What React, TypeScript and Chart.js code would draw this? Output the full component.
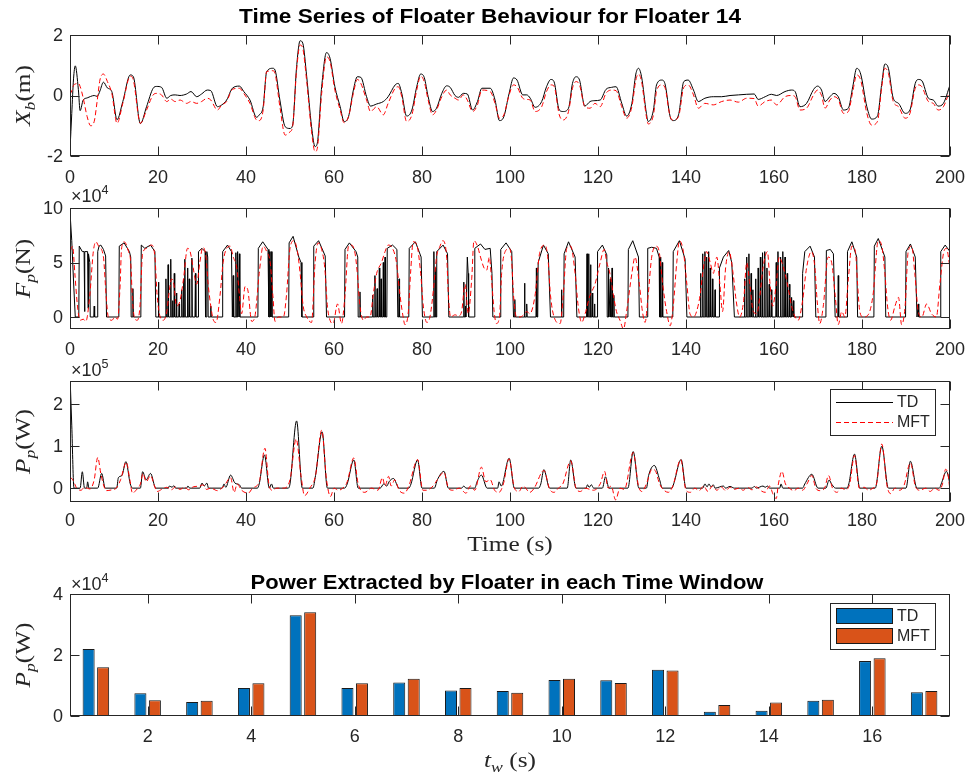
import React, { useEffect, useRef } from "react";
import { Chart, registerables } from "chart.js";
Chart.register(...registerables);

const W = 967;
const H = 775;
const AX = "#262626";
const SANS = '"Liberation Sans", Arial, Helvetica, sans-serif';
const SERIF = '"Liberation Serif", "Times New Roman", serif';

// ---------- Plot 1 : X_b (m) ----------
const tXb = [0, 0.4, 0.8, 1.2, 1.9, 2.3, 3, 3.9, 4.7, 5.5, 6.2, 6.8, 7.6, 8.5, 9.5, 10.7, 12, 13.7, 14.4, 16, 17.4, 18.9, 19.7, 20.8, 22, 22.9, 23.9, 25, 26.5, 27.5, 28.8, 29.9, 31.2, 32, 33.5, 34.5, 35.6, 36.9, 38.5, 39.5, 40.9, 42.4, 43, 43.9, 44.7, 46.1, 46.6, 47.7, 48.9, 50, 50.6, 51.5, 52.3, 52.9, 53.8, 54.9, 55.7, 56.2, 57.2, 58.3, 59.1, 60.2, 61.4, 62.3, 63.3, 64.4, 65.3, 66.1, 67.4, 68.3, 69.7, 71.2, 72.3, 73.9, 74.6, 75.4, 76.5, 77.7, 78.8, 79.7, 80.5, 81.4, 82.4, 83.3, 84.5, 85.6, 86.4, 87.5, 88.3, 89.4, 90.3, 91.5, 92.6, 93.6, 95.5, 96.6, 97.6, 98.6, 99.8, 100.8, 101.6, 102.9, 103.8, 104.6, 105.7, 107.2, 108.3, 109.3, 110, 111.2, 112.1, 113.3, 114.2, 115, 115.8, 117, 118.2, 119.3, 120.5, 121.8, 123.1, 124.1, 125.4, 126.5, 127.7, 128.6, 129.2, 129.9, 131, 131.4, 132.6, 133.3, 134.5, 135.2, 136.4, 137.1, 138.3, 139.5, 140.5, 141.7, 142.8, 144.3, 146.2, 148.1, 150, 151.9, 153.8, 155.5, 156.4, 158, 159.4, 160.6, 162.5, 164, 164.8, 165.9, 167.4, 169, 169.9, 170.8, 171.6, 172.7, 173.6, 174.6, 175.8, 176.9, 177.9, 178.8, 179.7, 181.1, 182.2, 183.5, 184.5, 185.2, 186, 187.1, 188.3, 189.8, 190.9, 192.1, 192.8, 193.6, 195.1, 196.2, 197.3, 198.5, 200];
const xbTD = [-1.8, -0.6, 0.55, 0.98, 0.2, -0.5, -0.15, -0.08, -0.03, 0, -0.03, 0.15, 0.44, 0.25, 0.13, -0.8, -0.2, 0.68, 0.62, -0.93, -0.37, 0.24, 0.3, 0.27, -0.09, 0, 0.02, 0, 0.05, 0.13, -0.04, 0.05, 0.18, 0.16, -0.37, -0.31, -0.15, 0.24, 0.31, 0.13, -0.15, -0.72, -0.64, -0.37, 0.79, 0.9, 0.84, -0.15, -1.03, -1.09, -0.98, 0.95, 1.81, 1.73, 0.62, -1.03, -1.69, -1.58, 0.29, 1.42, 1.23, 0.29, -0.37, -0.86, -0.7, 0.18, 0.62, 0.6, -0.04, -0.35, -0.28, -0.2, -0.04, 0.35, 0.4, 0.07, -0.68, -0.48, 0.29, 0.71, 0.6, -0.04, -0.53, -0.42, 0.07, 0.32, 0.27, 0, -0.06, 0.07, 0.05, -0.48, -0.2, 0.24, 0.24, -0.15, -0.83, -0.7, 0.07, 0.58, 0.51, 0.02, 0.02, -0.09, -0.39, -0.2, 0.29, 0.53, 0.46, -0.48, -0.53, -0.42, 0.4, 0.62, 0.51, -0.35, -0.2, -0.17, -0.15, 0.2, 0.27, 0.29, -0.26, -0.68, -0.26, 0.71, 0.9, 0.62, -0.59, -0.86, -0.48, 0.35, 0.51, 0.4, -0.7, -0.83, -0.64, 0.46, 0.51, 0.18, -0.2, -0.09, -0.04, -0.04, 0, 0.02, 0.04, 0.05, -0.13, -0.04, 0.04, 0, 0.13, 0.18, 0.13, -0.37, -0.26, 0.2, 0.31, 0.18, -0.2, -0.04, 0.07, -0.04, -0.48, -0.42, 0.29, 0.9, 0.71, -0.37, -0.78, -0.68, 0.4, 1.04, 0.9, -0.09, -0.26, -0.59, -0.48, 0.4, 0.53, 0.49, -0.09, -0.15, -0.35, -0.26, 0.35];
const xbMFT = [0.04, 0.15, 0.33, 0.38, 0.4, 0.3, -0.08, -0.7, -1.0, -0.86, -0.15, 0.51, 0.71, 0.46, 0.07, -0.92, -0.26, 0.64, 0.51, -0.92, -0.48, 0.02, 0.07, 0.02, -0.2, -0.12, -0.2, -0.15, -0.26, -0.2, -0.26, -0.2, -0.09, -0.15, -0.48, -0.31, -0.2, 0.2, 0.24, 0.07, -0.26, -0.81, -0.83, -0.48, 0.79, 0.82, 0.73, -0.37, -1.31, -1.2, -1.03, 0.84, 1.67, 1.56, 0.46, -1.2, -1.86, -1.75, 0.07, 1.28, 1.12, 0.18, -0.48, -0.9, -0.7, 0.07, 0.53, 0.4, -0.15, -0.53, -0.37, -0.64, -0.26, 0.24, 0.29, -0.04, -0.86, -0.64, 0.18, 0.64, 0.46, -0.15, -0.64, -0.48, -0.04, 0.18, 0.02, -0.09, -0.15, 0.02, -0.15, -0.53, -0.31, 0.18, 0.13, -0.26, -0.75, -0.64, 0.02, 0.35, 0.29, -0.09, -0.13, -0.15, -0.53, -0.37, 0.13, 0.35, 0.31, -0.64, -0.81, -0.53, 0.24, 0.46, 0.35, -0.37, -0.42, -0.26, -0.37, 0.07, 0.18, 0.16, -0.37, -0.75, -0.37, 0.51, 0.71, 0.46, -0.7, -0.94, -0.64, 0.13, 0.35, 0.27, -0.7, -0.81, -0.7, 0.27, 0.35, 0.02, -0.42, -0.26, -0.31, -0.2, -0.15, -0.22, -0.09, -0.1, -0.35, -0.2, -0.15, -0.31, -0.04, 0, -0.04, -0.48, -0.42, 0.02, 0.18, 0, -0.42, -0.15, -0.04, -0.13, -0.59, -0.53, 0.13, 0.68, 0.51, -0.59, -0.98, -0.86, 0.29, 0.9, 0.73, -0.2, -0.37, -0.75, -0.59, 0.24, 0.35, 0.29, -0.2, -0.26, -0.48, -0.37, 0.18];

// ---------- Plot 2 : F_p (N) x1e4, [time, value] ----------
const fpTD: [number, number][] = [[0, 9.6], [0.4, 7.0], [0.8, 3.3], [1.2, 0], [2.0, 0], [2.1, 6.5], [2.8, 6.0], [3.2, 6.0], [3.3, 0.5], [3.4, 6.0], [4.0, 6.0], [4.1, 0.8], [4.2, 5.8], [4.5, 5.0], [4.6, 0], [5.4, 0], [5.5, 1.0], [5.6, 0], [6.2, 0], [6.3, 6.0], [6.6, 6.5], [7.0, 6.6], [7.6, 6.2], [8.1, 5.6], [8.3, 0], [11.1, 0], [11.2, 6.5], [12.3, 6.8], [13.5, 6.0], [13.8, 5.5], [13.9, 0], [14.2, 0], [14.3, 2.6], [14.4, 0], [16.1, 0], [16.2, 6.6], [17.0, 6.3], [18.3, 6.6], [19.3, 6.0], [19.5, 0], [20.0, 0], [20.1, 3.2], [20.2, 0], [21.7, 0], [21.8, 3.5], [21.9, 0], [22.2, 0], [22.3, 4.8], [22.4, 0], [22.8, 0], [22.9, 5.3], [23.0, 0], [23.2, 0], [23.3, 1.5], [23.4, 0], [23.6, 0], [23.7, 4.0], [23.8, 0], [24.1, 0], [24.2, 2.2], [24.3, 0], [24.7, 0], [24.8, 1.2], [24.9, 0], [25.3, 0], [25.4, 2.5], [25.5, 0], [25.7, 0], [25.8, 3.5], [25.9, 0], [26.0, 0], [26.1, 5.3], [26.2, 0], [26.6, 0], [26.7, 4.5], [26.8, 0], [27.0, 0], [27.1, 3.5], [27.2, 0], [27.6, 0], [27.7, 5.4], [27.8, 0], [28.4, 0], [28.5, 4.0], [28.6, 0], [29.1, 0], [29.2, 6.0], [30.0, 6.3], [30.7, 6.0], [30.8, 0], [31.0, 0], [31.1, 6.0], [31.3, 5.5], [31.4, 0], [31.9, 0], [32.0, 1.0], [32.1, 0], [34.6, 0], [34.7, 6.0], [35.8, 6.6], [36.7, 6.0], [36.9, 0], [37.0, 0], [37.1, 3.8], [37.2, 0], [37.6, 0], [37.7, 5.9], [37.8, 0], [38.0, 0], [38.1, 6.0], [38.2, 0], [38.4, 0], [38.5, 5.8], [38.6, 0], [42.7, 0], [42.8, 6.3], [43.8, 6.9], [45.0, 6.2], [45.2, 0], [45.3, 0], [45.4, 6.0], [45.6, 0], [45.7, 6.0], [45.9, 0], [49.7, 0], [49.8, 6.8], [50.7, 7.4], [52.0, 5.5], [52.5, 5.0], [52.7, 0], [55.3, 0], [55.4, 6.5], [56.5, 7.0], [58.0, 5.6], [58.3, 0], [62.4, 0], [62.5, 6.2], [63.5, 6.8], [65.0, 6.0], [65.4, 5.5], [65.5, 0], [65.8, 0], [65.9, 2.3], [66.0, 0], [68.7, 0], [68.8, 2.0], [68.9, 0], [69.2, 0], [69.3, 3.8], [69.4, 0], [69.7, 0], [69.8, 2.6], [69.9, 0], [70.2, 0], [70.3, 4.5], [70.4, 0], [70.6, 0], [70.7, 3.5], [70.8, 0], [71.1, 0], [71.2, 5.0], [71.3, 0], [71.5, 0], [71.6, 5.5], [71.7, 0], [72.0, 0], [72.1, 6.3], [73.3, 6.6], [74.3, 6.2], [74.5, 0], [74.7, 0], [74.8, 3.5], [74.9, 0], [77.0, 0], [77.1, 6.3], [78.5, 6.9], [79.8, 5.5], [80.1, 0], [82.6, 0], [82.7, 6.0], [82.8, 0], [83.0, 0], [83.1, 4.5], [83.2, 0], [83.3, 0], [83.4, 6.0], [84.8, 6.6], [85.8, 5.8], [86.1, 0], [89.4, 0], [89.5, 3.2], [89.6, 0], [89.8, 0], [89.9, 1.0], [90.0, 0], [90.2, 0], [90.3, 5.5], [90.5, 4.0], [90.6, 0], [91.9, 0], [92.0, 6.3], [93.3, 6.7], [94.3, 6.2], [95.5, 6.3], [95.9, 4.0], [96.1, 0], [97.8, 0], [97.9, 6.2], [99.1, 6.8], [100.4, 6.0], [100.8, 0], [101.0, 0], [101.1, 1.6], [101.2, 0], [103.2, 0], [103.3, 3.1], [103.4, 0], [103.7, 0], [103.8, 1.2], [103.9, 0], [105.9, 0], [106.0, 4.5], [106.1, 0], [106.3, 0], [106.4, 5.0], [107.6, 6.6], [108.7, 5.8], [109.2, 0], [111.6, 0], [111.7, 2.5], [111.8, 0], [112.2, 0], [112.3, 5.8], [113.3, 6.9], [114.8, 5.5], [115.2, 0], [117.4, 0], [117.5, 5.8], [117.6, 0], [117.8, 0], [117.9, 5.8], [118.0, 0], [118.2, 0], [118.3, 4.8], [118.4, 0], [118.6, 0], [118.7, 2.2], [118.8, 0], [119.1, 0], [119.2, 1.2], [119.3, 0], [119.8, 0], [119.9, 6.0], [121.0, 6.6], [122.0, 5.7], [122.1, 0], [122.3, 0], [122.4, 4.5], [122.5, 0], [122.7, 0], [122.8, 3.5], [122.9, 0], [123.1, 0], [123.2, 4.5], [123.3, 0], [123.5, 0], [123.6, 2.0], [123.7, 0], [126.8, 0], [126.9, 6.2], [127.9, 7.0], [129.2, 5.5], [129.4, 0], [131.2, 0], [131.3, 6.3], [132.2, 6.4], [133.3, 6.3], [133.9, 5.5], [134.0, 0], [134.1, 0], [134.2, 5.5], [134.3, 0], [134.5, 0], [134.6, 5.0], [134.7, 0], [137.0, 0], [137.1, 6.0], [138.5, 7.0], [139.8, 5.3], [140.2, 0], [143.2, 0], [143.3, 4.0], [143.4, 0], [143.7, 0], [143.8, 5.8], [143.9, 0], [144.2, 0], [144.3, 6.0], [144.4, 0], [144.6, 0], [144.7, 5.5], [144.8, 0], [145.0, 0], [145.1, 6.0], [145.2, 0], [145.4, 0], [145.5, 4.5], [145.6, 0], [145.9, 0], [146.0, 3.5], [146.1, 0], [146.5, 0], [146.6, 2.5], [146.7, 0], [147.5, 0], [147.6, 4.5], [148.5, 5.5], [149.7, 6.1], [150.4, 5.0], [151.0, 0], [153.2, 0], [153.3, 3.5], [153.4, 0], [153.7, 0], [153.8, 5.5], [153.9, 0], [154.2, 0], [154.3, 5.8], [154.4, 0], [154.7, 0], [154.8, 4.0], [154.9, 0], [155.1, 0], [155.2, 2.5], [155.3, 0], [155.7, 0], [155.8, 3.5], [155.9, 0], [156.3, 0], [156.4, 4.5], [156.5, 0], [156.8, 0], [156.9, 5.5], [157.0, 0], [157.3, 0], [157.4, 5.9], [157.5, 0], [157.8, 0], [157.9, 6.0], [158.0, 0], [158.3, 0], [158.4, 4.5], [158.5, 0], [158.8, 0], [158.9, 3.0], [159.0, 0], [159.3, 0], [159.4, 2.5], [159.5, 0], [160.4, 0], [160.5, 5.0], [160.6, 0], [160.8, 0], [160.9, 6.0], [161.0, 0], [161.4, 0], [161.5, 5.5], [161.6, 0], [161.9, 0], [162.0, 6.0], [162.1, 0], [162.4, 0], [162.5, 5.5], [162.6, 0], [162.9, 0], [163.0, 4.0], [163.1, 0], [163.4, 0], [163.5, 3.0], [163.6, 0], [163.9, 0], [164.0, 1.8], [164.1, 0], [164.3, 0], [164.4, 1.5], [164.5, 0], [166.4, 0], [166.5, 4.0], [167.0, 6.0], [168.2, 6.5], [169.2, 5.5], [169.5, 0], [171.8, 0], [171.9, 6.1], [172.8, 6.2], [173.5, 5.8], [173.9, 0], [174.5, 0], [174.6, 3.8], [174.7, 0], [176.6, 0], [176.7, 6.0], [177.7, 6.9], [178.8, 5.5], [179.0, 0], [182.7, 0], [182.8, 6.5], [183.7, 7.2], [185.2, 5.5], [185.4, 0], [189.9, 0], [190.0, 6.0], [191.0, 6.7], [192.1, 5.5], [192.5, 0], [192.7, 0], [192.8, 1.2], [192.9, 0], [197.8, 0], [197.9, 6.0], [198.9, 6.6], [200, 6.0]];
const fpMFT: [number, number][] = [[0, 6.1], [0.2, 6.2], [0.6, 6.5], [1.1, 4.0], [1.7, 1.0], [2.3, -0.3], [3.0, -0.2], [3.6, -0.4], [4.5, 2.0], [5.3, 6.0], [5.9, 6.9], [6.5, 6.5], [7.6, 5.5], [8.2, 2.0], [8.7, 0.0], [9.5, -0.3], [10.2, 0.0], [10.8, -0.2], [11.4, 3.0], [11.7, 6.2], [12.3, 6.9], [13.3, 6.0], [13.8, 5.0], [14.2, 1.5], [14.8, -0.2], [15.3, -0.3], [15.9, 1.0], [16.5, 5.8], [17.4, 6.3], [18.5, 6.6], [19.3, 5.5], [19.8, 2.0], [20.5, 0.0], [21.2, -0.3], [22.0, 0.5], [22.6, 2.5], [23.1, 3.5], [23.6, 3.0], [24.2, 1.0], [25.0, 1.5], [25.8, 3.5], [26.7, 6.3], [27.3, 6.0], [28.0, 4.5], [28.8, 3.0], [29.5, 5.0], [30.2, 6.4], [30.9, 5.5], [31.4, 3.0], [32.0, 1.0], [32.6, -0.3], [33.2, -0.5], [34.1, 2.0], [34.8, 5.0], [35.6, 6.3], [36.4, 6.5], [37.1, 5.5], [37.9, 4.5], [38.5, 2.0], [39.0, 0.3], [39.8, 2.8], [40.4, 2.5], [41.3, -0.4], [42.0, 0.0], [43.0, 4.0], [43.9, 6.5], [44.7, 6.0], [45.5, 5.0], [46.1, 2.0], [46.6, -0.4], [47.3, 0.0], [48.5, 0.0], [49.2, 2.0], [50.0, 6.3], [50.9, 7.0], [51.7, 6.0], [52.3, 4.0], [53.0, 1.0], [53.8, 0.0], [54.9, -0.5], [55.7, 5.0], [56.4, 6.8], [57.2, 6.2], [57.9, 4.5], [58.5, 1.0], [59.1, -0.3], [59.8, -0.6], [60.8, 1.2], [61.7, -0.6], [62.5, 2.0], [63.3, 6.5], [64.0, 6.6], [64.8, 5.8], [65.3, 4.0], [65.9, 1.0], [66.7, -0.3], [67.4, 0.0], [68.2, 0.0], [68.9, 2.0], [69.7, 4.0], [70.8, 5.0], [71.6, 6.0], [72.3, 6.6], [73.3, 6.3], [74.2, 5.0], [75.0, 2.0], [75.8, -0.2], [76.1, -0.7], [76.9, 0.5], [77.4, 4.0], [78.0, 6.9], [78.9, 6.5], [79.7, 4.0], [80.3, 1.0], [81.1, -0.5], [81.8, 0.0], [82.6, 2.5], [83.3, 5.5], [84.1, 6.5], [84.7, 7.0], [85.6, 5.5], [86.0, 2.0], [86.5, 0.0], [87.5, 0.2], [88.3, 0.1], [89.0, 0.5], [89.8, 3.0], [90.5, 0.3], [91.3, 3.5], [91.8, 7.0], [92.6, 6.5], [93.3, 5.5], [94.1, 4.5], [94.7, 4.3], [95.3, 5.5], [95.8, 3.5], [96.4, 0.5], [96.9, -0.6], [97.6, 0.0], [98.1, 4.0], [98.9, 6.0], [99.9, 6.3], [100.4, 5.0], [100.8, 2.0], [101.5, 0.0], [102.3, 0.0], [103.1, 0.2], [103.8, 0.5], [104.5, 0.3], [105.7, 2.0], [106.8, 6.0], [108.0, 6.6], [108.7, 5.0], [109.2, 2.0], [110.2, -0.2], [111.4, -0.6], [112.1, 2.0], [112.9, 6.3], [113.8, 6.5], [114.8, 4.0], [115.5, 1.0], [116.3, -0.5], [117.0, 0.2], [118.2, 2.0], [119.3, 3.0], [120.5, 5.0], [121.4, 6.2], [122.0, 5.0], [122.7, 4.0], [123.5, 2.0], [124.2, 0.5], [125.0, -0.3], [125.8, -1.1], [126.5, 0.5], [127.7, 4.0], [128.4, 5.5], [129.4, 3.0], [130.1, 0.5], [130.7, -0.5], [131.4, 2.0], [132.2, 5.5], [133.2, 6.5], [133.9, 6.0], [134.7, 3.0], [135.6, 0.5], [136.4, -0.8], [137.1, 1.0], [137.9, 5.0], [138.5, 7.0], [139.4, 6.0], [140.2, 3.0], [140.9, 0.3], [141.7, 0.0], [142.4, 0.5], [143.2, 2.0], [143.8, 4.0], [144.7, 6.0], [145.5, 5.0], [146.2, 4.0], [147.0, 5.5], [147.7, 3.0], [148.3, 0.5], [149.0, 4.5], [149.8, 6.0], [150.7, 4.0], [151.4, 1.5], [152.2, 0.0], [153.1, 1.5], [153.8, 5.0], [154.5, 3.0], [155.3, 0.5], [156.1, 0.3], [156.8, 2.0], [157.5, 4.5], [158.5, 6.0], [159.1, 3.0], [159.7, 1.0], [160.5, 3.0], [161.2, 5.5], [161.8, 5.0], [162.5, 4.0], [163.3, 2.5], [164.0, 1.0], [164.8, 0.0], [165.5, -0.3], [166.5, 1.5], [167.4, 4.5], [168.5, 6.0], [169.3, 4.5], [169.8, 1.5], [170.4, -0.6], [171.2, 1.0], [172.3, 5.5], [173.1, 5.0], [173.9, 2.0], [174.6, -0.7], [175.4, 0.5], [176.1, 0.0], [176.9, 3.5], [177.7, 6.5], [178.5, 6.0], [179.0, 3.0], [179.5, 0.5], [180.3, 0.0], [181.4, 0.2], [182.5, 2.0], [183.7, 7.0], [184.5, 6.5], [185.2, 4.0], [185.8, 1.0], [186.5, -0.3], [187.5, 1.0], [188.3, 1.8], [189.0, -0.7], [189.8, 1.0], [190.5, 6.0], [191.3, 6.5], [192.0, 4.0], [192.8, 0.5], [193.6, 0.0], [194.7, 1.2], [195.8, 0.3], [196.9, 0.0], [197.7, 3.0], [198.6, 6.0], [199.2, 6.3], [200, 4.5]];

// ---------- Plot 3 : P_p (W) x1e5, [time, value] ----------
const ppTD: [number, number][] = [[0, 2.7], [0.4, 1.5], [0.9, 0], [2.3, 0], [2.8, 0.39], [3.3, 0], [3.8, 0], [4.0, 0.15], [4.3, 0], [6.3, 0], [7.2, 0.35], [8.0, 0], [10.6, 0], [11.0, 0.25], [11.8, 0.3], [12.7, 0.63], [13.7, 0.1], [14.2, 0], [16.0, 0], [16.5, 0.39], [17.3, 0.2], [18.3, 0.35], [19.5, 0], [22.3, 0], [22.6, 0.05], [23.2, 0.02], [23.6, 0.06], [24, 0], [26.5, 0], [26.8, 0.05], [27.2, 0], [29.5, 0], [30, 0.12], [30.5, 0.05], [31.1, 0.12], [31.5, 0], [34.6, 0], [35, 0.1], [35.4, 0.02], [36.5, 0.31], [37.5, 0.12], [38.5, 0.08], [39, 0], [42.6, 0], [43, 0.1], [44.2, 0.79], [45.3, 0], [45.8, 0.1], [46.2, 0], [49.6, 0], [50, 0.1], [51.5, 1.6], [52.8, 0], [55.2, 0], [55.8, 0.3], [57.3, 1.34], [58.5, 0], [62.4, 0], [63, 0.1], [64.5, 0.67], [65.5, 0], [70.5, 0], [71.3, 0.1], [72, 0.05], [72.5, 0.15], [73.5, 0.23], [74.8, 0], [77, 0], [77.5, 0.1], [79, 0.67], [80, 0], [82.8, 0], [83.5, 0.2], [85, 0.4], [86, 0], [89, 0], [89.5, 0.05], [90, 0], [92, 0], [92.5, 0.15], [93.5, 0.31], [94.8, 0], [97.2, 0], [97.5, 0.15], [98, 0.05], [99.8, 0.71], [101, 0], [106.5, 0], [107, 0.1], [107.7, 0.44], [109, 0], [113, 0], [113.8, 0.67], [115, 0], [117.3, 0], [117.6, 0.08], [118, 0.02], [118.5, 0.08], [119, 0], [121, 0], [121.7, 0.27], [122.5, 0], [126.8, 0], [128, 0.87], [129.3, 0], [131, 0], [131.5, 0.3], [132.8, 0.54], [134, 0.2], [134.6, 0], [136.8, 0], [137.2, 0.1], [138.9, 0.68], [140, 0], [143.8, 0], [144.3, 0.1], [144.8, 0.03], [145.2, 0.1], [145.7, 0.03], [146.2, 0.08], [146.6, 0], [148.5, 0.05], [149, 0], [150, 0.04], [151, 0], [155, 0], [155.5, 0.04], [156, 0], [157.5, 0.05], [158, 0.02], [158.5, 0.05], [159, 0], [161.3, 0], [161.6, 0.1], [162, 0], [166.5, 0], [167, 0.1], [168.6, 0.33], [170, 0], [171.8, 0], [172.5, 0.19], [173.2, 0.08], [174, 0], [176.6, 0], [177, 0.1], [178.3, 0.81], [179.5, 0], [183, 0], [184.5, 1.0], [186, 0], [190, 0], [191, 0.64], [192.5, 0], [197.6, 0], [198, 0.1], [199.2, 0.4], [200, 0.1]];
const ppMFT: [number, number][] = [[0, 0.25], [0.5, 0.22], [1.0, 0.12], [1.5, 0], [2.5, -0.05], [3.3, 0.02], [4.5, -0.02], [5.5, 0.2], [6.3, 0.73], [7.0, 0.35], [7.7, 0.05], [8.2, -0.06], [9.5, -0.04], [10.5, 0], [11.5, 0.2], [12.8, 0.62], [13.6, 0.2], [14.2, -0.12], [15, -0.05], [16, 0.1], [16.6, 0.35], [17.3, 0.15], [18.3, 0.3], [19.2, 0.05], [19.8, -0.08], [21, -0.02], [22, 0.02], [23, -0.04], [24, 0.03], [25, -0.03], [26, 0.02], [27, -0.04], [28, 0.03], [29.5, 0.05], [30.2, 0.08], [31, -0.03], [32, 0.0], [33.5, -0.06], [35, 0.05], [36.5, 0.25], [37.3, -0.1], [38, 0.1], [39, -0.05], [40.5, -0.12], [41.5, 0], [43, 0.15], [44.3, 0.95], [45.2, 0.1], [46, -0.05], [47, 0.0], [48.5, 0.0], [50, 0.2], [51.4, 1.17], [52.5, 0.3], [53.3, -0.18], [54.5, 0.0], [55.8, 0.3], [57.2, 1.38], [58.3, 0.2], [59.2, -0.2], [60, 0.0], [61, -0.05], [62, 0.0], [63, 0.15], [64.5, 0.72], [65.5, 0.1], [67, -0.1], [68.5, 0], [70, -0.05], [71, 0.25], [71.6, 0.05], [72.4, 0.28], [73, 0.05], [73.8, 0.2], [74.8, -0.05], [76, -0.12], [77, 0.05], [79, 0.68], [80.2, -0.05], [81, -0.05], [82.5, 0.05], [83.5, 0.2], [85, 0.38], [86, 0.0], [87, -0.05], [88.5, 0.0], [90, -0.12], [91, 0.05], [92, -0.05], [93.5, 0.5], [94.5, 0.15], [95.5, 0.2], [96.5, -0.05], [97.5, -0.1], [98.5, 0.1], [99.8, 0.7], [101, 0.0], [102, -0.08], [103, 0.05], [104.5, -0.1], [105.5, 0.0], [107.7, 0.42], [109, -0.02], [110, -0.1], [111, 0.0], [112, 0.1], [113.8, 0.65], [115, 0.0], [116, -0.08], [117, 0.0], [119, -0.05], [120.5, 0.1], [121.5, 0.4], [122.3, 0.0], [123, 0.05], [124, -0.28], [125, 0.0], [126, -0.03], [128, 0.85], [129.2, 0.05], [130, -0.08], [131, 0.1], [132.3, 0.45], [133, 0.42], [134, 0.1], [135, -0.05], [136, -0.1], [137, 0.05], [138.8, 0.68], [140, -0.05], [141, -0.1], [142, 0.0], [143, -0.06], [144, 0.05], [145, -0.08], [146, 0.05], [147, -0.05], [148, 0.03], [149, -0.06], [150, 0.02], [151, -0.03], [152, 0.0], [153, -0.05], [154, 0.02], [155, -0.04], [156, 0.03], [157, -0.06], [158, -0.1], [159, 0.05], [159.8, -0.15], [160.5, -0.25], [161, 0.1], [161.8, 0.4], [162.6, 0.1], [163.5, 0.0], [164.5, -0.06], [165.5, 0.0], [166.5, -0.05], [167.5, 0.1], [168.6, 0.3], [169.5, 0.0], [170.5, -0.06], [171.5, 0.0], [172.4, 0.3], [173.3, 0.0], [174.3, -0.1], [175.3, 0.0], [176.3, -0.04], [177.2, 0.1], [178.3, 0.78], [179.4, 0.0], [180.5, 0.02], [181.5, -0.05], [182.5, 0.0], [183.3, 0.1], [184.5, 1.05], [185.7, 0.05], [186.5, -0.13], [187.5, 0.0], [188.5, -0.05], [189.5, 0.05], [191, 0.6], [192.2, 0.02], [193.2, -0.05], [194.5, 0.0], [195.5, -0.08], [196.5, 0.0], [197.5, -0.05], [198.3, 0.1], [199, 0.45], [199.6, 0.3], [200, -0.08]];

// ---------- Plot 4 : bars, P_p (W) x1e4 per time window ----------
const windows = [1, 2, 3, 4, 5, 6, 7, 8, 9, 10, 11, 12, 13, 14, 15, 16, 17];
const barTD = [2.2, 0.75, 0.46, 0.92, 3.3, 0.92, 1.1, 0.84, 0.82, 1.18, 1.17, 1.52, 0.14, 0.17, 0.5, 1.8, 0.78];
const barMFT = [1.6, 0.52, 0.5, 1.07, 3.4, 1.07, 1.22, 0.92, 0.76, 1.22, 1.08, 1.49, 0.36, 0.44, 0.53, 1.89, 0.82];

// ---------- tick definitions ----------
const timeTicks = [0, 20, 40, 60, 80, 100, 120, 140, 160, 180, 200];
const xbTicks = [-2, 0, 2];
const fpTicks = [0, 5, 10];
const ppTicks = [0, 1, 2];
const barYTicks = [0, 2, 4];
const barXTicks = [2, 4, 6, 8, 10, 12, 14, 16];

const TD_COLOR = "#000000";
const MFT_COLOR = "#ff0000";
const BLUE = "#0072BD";
const ORANGE = "#D95319";

type Seg = { t: string; it?: boolean; sub?: boolean; sup?: boolean };

function drawRich(ctx: CanvasRenderingContext2D, segs: Seg[], x: number, y: number, size: number, family: string, align: "center" | "left", rotate: boolean, stretch = 1) {
  ctx.save();
  ctx.translate(x, y);
  if (rotate) ctx.rotate(-Math.PI / 2);
  ctx.scale(stretch, 1);
  const parts = segs.map((s) => {
    const sz = s.sub || s.sup ? size * 0.7 : size;
    const font = `${s.it ? "italic " : ""}${sz}px ${family}`;
    ctx.font = font;
    return { s, font, w: ctx.measureText(s.t).width, dy: s.sub ? size * 0.22 : s.sup ? -size * 0.42 : 0 };
  });
  const total = parts.reduce((acc, p) => acc + p.w, 0);
  let cx = align === "center" ? -total / 2 : 0;
  ctx.textBaseline = "alphabetic";
  ctx.textAlign = "left";
  ctx.fillStyle = AX;
  for (const p of parts) {
    ctx.font = p.font;
    ctx.fillText(p.s.t, cx, p.dy);
    cx += p.w;
  }
  ctx.restore();
}

type LegendItem = { label: string; kind: "line" | "patch"; color: string; dash?: number[] };
type AxCfg = {
  xTicks: number[];
  xTickPos: number[];
  yTicks: number[];
  xLabelOffset: number;
  title?: { text: string; x: number; y: number; size: number; sx: number };
  yLabel: { segs: Seg[]; x: number };
  xLabel?: { segs: Seg[]; y: number };
  expo?: { p: string; y: number };
  legend?: { x1: number; y1: number; x2: number; y2: number; items: LegendItem[] };
};

const LABEL_SIZE = 22;
const LABEL_STRETCH = 1.15;

function matlabPlugin(cfg: AxCfg) {
  return {
    id: "matlabAxes",
    afterDraw(chart: any) {
      const ctx: CanvasRenderingContext2D = chart.ctx;
      const a = chart.chartArea;
      const xs = chart.scales.x;
      const ys = chart.scales.y;
      const TL = 9;
      ctx.save();
      ctx.strokeStyle = AX;
      ctx.lineWidth = 1;
      ctx.setLineDash([]);
      const L = a.left + 0.5, R = a.right - 0.5, T = a.top + 0.5, B = a.bottom - 0.5;
      ctx.beginPath();
      cfg.xTickPos.forEach((v) => {
        const px = Math.round(xs.getPixelForValue(v)) + 0.5;
        ctx.moveTo(px, B); ctx.lineTo(px, B - TL);
        ctx.moveTo(px, T); ctx.lineTo(px, T + TL);
      });
      cfg.yTicks.forEach((v) => {
        const py = Math.round(ys.getPixelForValue(v)) + 0.5;
        ctx.moveTo(L, py); ctx.lineTo(L + TL, py);
        ctx.moveTo(R, py); ctx.lineTo(R - TL, py);
      });
      ctx.stroke();
      ctx.strokeRect(L, T, R - L, B - T);

      // tick labels
      ctx.fillStyle = AX;
      ctx.font = `18px ${SANS}`;
      ctx.textAlign = "center";
      ctx.textBaseline = "middle";
      cfg.xTickPos.forEach((v, i) => {
        ctx.fillText(String(cfg.xTicks[i]), xs.getPixelForValue(v), a.bottom + cfg.xLabelOffset);
      });
      ctx.textAlign = "right";
      cfg.yTicks.forEach((v) => {
        ctx.fillText(String(v), a.left - 7, ys.getPixelForValue(v) + 1);
      });

      // exponent label
      if (cfg.expo) {
        drawRich(ctx, [{ t: "\u00d710" }, { t: cfg.expo.p, sup: true }], a.left + 1, cfg.expo.y, 18, SANS, "left", false);
      }
      // title
      if (cfg.title) {
        const t = cfg.title;
        ctx.save();
        ctx.translate(t.x, t.y);
        ctx.scale(t.sx, 1);
        ctx.font = `bold ${t.size}px ${SANS}`;
        ctx.textAlign = "center";
        ctx.textBaseline = "middle";
        ctx.fillStyle = "#000";
        ctx.fillText(t.text, 0, 0);
        ctx.restore();
      }
      // axis labels
      drawRich(ctx, cfg.yLabel.segs, cfg.yLabel.x, (a.top + a.bottom) / 2, LABEL_SIZE, SERIF, "center", true, LABEL_STRETCH);
      if (cfg.xLabel) {
        drawRich(ctx, cfg.xLabel.segs, (a.left + a.right) / 2, cfg.xLabel.y, LABEL_SIZE, SERIF, "center", false, LABEL_STRETCH);
      }
      // legend
      if (cfg.legend) {
        const lg = cfg.legend;
        ctx.fillStyle = "#fff";
        ctx.fillRect(lg.x1, lg.y1, lg.x2 - lg.x1, lg.y2 - lg.y1);
        ctx.strokeStyle = AX;
        ctx.lineWidth = 1;
        ctx.strokeRect(lg.x1 + 0.5, lg.y1 + 0.5, lg.x2 - lg.x1, lg.y2 - lg.y1);
        const rowH = (lg.y2 - lg.y1 - 6) / lg.items.length;
        lg.items.forEach((it, i) => {
          const cy = lg.y1 + 3 + rowH * (i + 0.5);
          if (it.kind === "line") {
            ctx.strokeStyle = it.color;
            ctx.setLineDash(it.dash || []);
            ctx.beginPath();
            ctx.moveTo(lg.x1 + 6, Math.round(cy) + 0.5);
            ctx.lineTo(lg.x1 + 63, Math.round(cy) + 0.5);
            ctx.stroke();
            ctx.setLineDash([]);
          } else {
            ctx.fillStyle = it.color;
            ctx.fillRect(lg.x1 + 6, cy - 7.5, 57, 15);
            ctx.strokeStyle = "#1a1a1a";
            ctx.strokeRect(lg.x1 + 6.5, cy - 7.5, 56, 15);
          }
          ctx.fillStyle = AX;
          ctx.font = `16px ${SANS}`;
          ctx.textAlign = "left";
          ctx.textBaseline = "middle";
          ctx.fillText(it.label, lg.x1 + 67, cy + 1);
        });
      }
      ctx.restore();
    },
  };
}

const LEFT = 70;
const RIGHT = 950;

function pad(top: number, bottom: number) {
  return { left: LEFT, right: W - RIGHT, top, bottom: H - bottom };
}

function toXY(arr: [number, number][]) {
  return arr.map(([x, y]) => ({ x, y }));
}

function lineChart(datasets: any[], yMin: number, yMax: number, top: number, bottom: number, cfg: AxCfg) {
  return {
    type: "line",
    data: { datasets },
    options: {
      responsive: false,
      animation: false,
      events: [],
      layout: { padding: pad(top, bottom) },
      scales: {
        x: { type: "linear", min: 0, max: 200, display: false },
        y: { type: "linear", min: yMin, max: yMax, display: false },
      },
      plugins: { legend: { display: false }, tooltip: { enabled: false }, title: { display: false } },
    },
    plugins: [matlabPlugin(cfg)],
  };
}

function lineDs(data: any[], color: string, dash: number[], mono: boolean) {
  return {
    data,
    borderColor: color,
    borderWidth: 1,
    borderDash: dash,
    pointRadius: 0,
    fill: false,
    tension: mono ? 0.4 : 0,
    cubicInterpolationMode: mono ? "monotone" : "default",
  };
}

const DASH = [5, 3];
const lineLegend: LegendItem[] = [
  { label: "TD", kind: "line", color: TD_COLOR },
  { label: "MFT", kind: "line", color: MFT_COLOR, dash: DASH },
];

export default function App() {
  const r1 = useRef<HTMLCanvasElement>(null);
  const r2 = useRef<HTMLCanvasElement>(null);
  const r3 = useRef<HTMLCanvasElement>(null);
  const r4 = useRef<HTMLCanvasElement>(null);

  useEffect(() => {
    const charts: Chart[] = [];
    const xbTDData = tXb.map((t, i) => ({ x: t, y: xbTD[i] }));
    const xbMFTData = tXb.map((t, i) => ({ x: t, y: xbMFT[i] }));

    charts.push(
      new Chart(r1.current!, lineChart(
        [lineDs(xbMFTData, MFT_COLOR, DASH, true), lineDs(xbTDData, TD_COLOR, [], true)],
        -2, 2, 35, 156,
        {
          xTicks: timeTicks, xTickPos: timeTicks, yTicks: xbTicks, xLabelOffset: 22,
          title: { text: "Time Series of Floater Behaviour for Floater 14", x: 490, y: 17, size: 20, sx: 1.13 },
          yLabel: { segs: [{ t: "X", it: true }, { t: "b", it: true, sub: true }, { t: "(m)" }], x: 30 },
        }
      ) as any)
    );
    charts.push(
      new Chart(r2.current!, lineChart(
        [lineDs(toXY(fpMFT), MFT_COLOR, DASH, true), lineDs(toXY(fpTD), TD_COLOR, [], false)],
        -1.1, 10, 208, 329,
        {
          xTicks: timeTicks, xTickPos: timeTicks, yTicks: fpTicks, xLabelOffset: 21,
          expo: { p: "4", y: 202 },
          yLabel: { segs: [{ t: "F", it: true }, { t: "p", it: true, sub: true }, { t: "(N)" }], x: 30 },
        }
      ) as any)
    );
    charts.push(
      new Chart(r3.current!, lineChart(
        [lineDs(toXY(ppMFT), MFT_COLOR, DASH, true), lineDs(toXY(ppTD), TD_COLOR, [], true)],
        -0.33, 2.55, 381, 502,
        {
          xTicks: timeTicks, xTickPos: timeTicks, yTicks: ppTicks, xLabelOffset: 19,
          expo: { p: "5", y: 376 },
          yLabel: { segs: [{ t: "P", it: true }, { t: "p", it: true, sub: true }, { t: "(W)" }], x: 30 },
          xLabel: { segs: [{ t: "Time (s)" }], y: 551 },
          legend: { x1: 830, y1: 389, x2: 935, y2: 435, items: lineLegend },
        }
      ) as any)
    );
    charts.push(
      new Chart(r4.current!, {
        type: "bar",
        data: {
          labels: windows.map(String),
          datasets: [
            { label: "TD", data: barTD, backgroundColor: BLUE, borderColor: "#1a1a1a", borderWidth: 1, categoryPercentage: 0.56, barPercentage: 0.83 },
            { label: "MFT", data: barMFT, backgroundColor: ORANGE, borderColor: "#1a1a1a", borderWidth: 1, categoryPercentage: 0.56, barPercentage: 0.83 },
          ],
        },
        options: {
          responsive: false,
          animation: false,
          events: [],
          layout: { padding: pad(594, 716) },
          scales: {
            x: { type: "category", offset: true, display: false },
            y: { type: "linear", min: 0, max: 4, display: false },
          },
          plugins: { legend: { display: false }, tooltip: { enabled: false } },
        },
        plugins: [matlabPlugin({
          xTicks: barXTicks, xTickPos: barXTicks.map((v) => windows.indexOf(v)), yTicks: barYTicks, xLabelOffset: 21,
          title: { text: "Power Extracted by Floater in each Time Window", x: 507, y: 583, size: 20, sx: 1.1 },
          expo: { p: "4", y: 590 },
          yLabel: { segs: [{ t: "P", it: true }, { t: "p", it: true, sub: true }, { t: "(W)" }], x: 30 },
          xLabel: { segs: [{ t: "t", it: true }, { t: "w", it: true, sub: true }, { t: " (s)" }], y: 767 },
          legend: {
            x1: 830, y1: 603, x2: 935, y2: 649, items: [
              { label: "TD", kind: "patch", color: BLUE },
              { label: "MFT", kind: "patch", color: ORANGE },
            ],
          },
        })],
      } as any)
    );
    return () => charts.forEach((c) => c.destroy());
  }, []);

  const cs: React.CSSProperties = { position: "absolute", left: 0, top: 0 };
  return (
    <div style={{ position: "fixed", left: 0, top: 0, width: W, height: H, background: "#fff" }}>
      <canvas ref={r1} width={W} height={H} style={cs} />
      <canvas ref={r2} width={W} height={H} style={cs} />
      <canvas ref={r3} width={W} height={H} style={cs} />
      <canvas ref={r4} width={W} height={H} style={cs} />
    </div>
  );
}
